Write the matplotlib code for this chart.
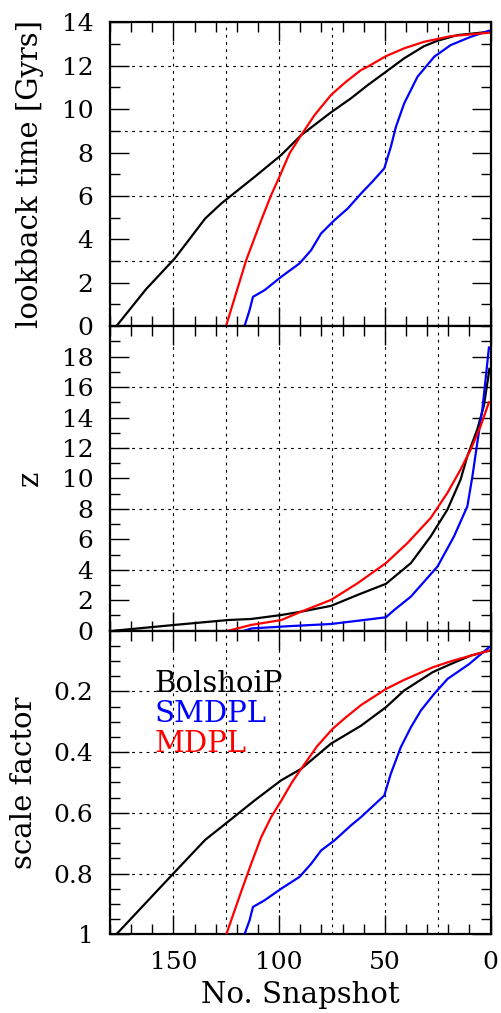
import matplotlib.pyplot as plt
from matplotlib.ticker import MultipleLocator, FixedLocator, FixedFormatter

plt.rcParams['font.family'] = 'DejaVu Serif'
plt.rcParams['font.size'] = 18

# ---- data (snapshot number -> value) ----
# lookback time [Gyrs]
lb_bol_x = [177, 163, 149.4, 135, 127.4, 111.6, 99.1, 89.6, 75.5, 66, 58.2, 49.5, 40.9, 31.5, 25.1, 15.7, 0.8]
lb_bol_y = [0, 1.7, 3.12, 4.96, 5.65, 6.88, 7.88, 8.8, 9.85, 10.5, 11.1, 11.72, 12.34, 12.9, 13.15, 13.41, 13.56]
lb_smd_x = [116.4, 114, 112.4, 106.9, 99.1, 90.4, 84.9, 80.2, 73.9, 67.6, 61.3, 56, 50.3, 47.2, 44.8,
            40.9, 34.6, 26.7, 18.9, 9.4, 0.8]
lb_smd_y = [0, 0.74, 1.35, 1.66, 2.27, 2.89, 3.5, 4.27, 4.88, 5.42, 6.11, 6.65, 7.27, 8.26, 9.18,
            10.26, 11.49, 12.41, 12.95, 13.33, 13.61]
lb_mdp_x = [125, 115.6, 108.5, 103.8, 99.9, 95.1, 89.6, 83.3, 75.5, 68.4, 61.3, 58.2, 49.5, 40.9,
            31.5, 18.9, 0.8]
lb_mdp_y = [0.05, 3.04, 4.88, 6.04, 6.88, 7.96, 8.8, 9.72, 10.65, 11.26, 11.8, 11.95, 12.44, 12.8,
            13.1, 13.36, 13.52]

# redshift z
z_bol_x = [178, 149.4, 124.2, 113.2, 99, 89.6, 75.5, 62.9, 49.5, 37.7, 28.3, 20.4, 14.2, 11, 6.3,
           3.2, 1.3, 0.6]
z_bol_y = [0, 0.38, 0.7, 0.77, 1.03, 1.25, 1.63, 2.35, 3.08, 4.44, 6.2, 7.96, 9.93, 11.47, 13.23,
           14.77, 16.5, 17.2]
z_smd_x = [116.4, 113, 95, 75.5, 60, 49.5, 45.6, 37.7, 25.1, 17.3, 11, 8.6, 6.3, 3.9, 2.4, 0.8]
z_smd_y = [0, 0.15, 0.3, 0.44, 0.7, 0.88, 1.36, 2.24, 4.22, 6.2, 8.17, 10.15, 12.35, 14.55, 16.5, 18.6]
z_mdp_x = [124, 113.2, 99, 89.6, 75.5, 62.9, 49.5, 39.3, 28.3, 20.4, 14.2, 9.4, 4.7, 0.8]
z_mdp_y = [0, 0.38, 0.7, 1.25, 2.02, 3.12, 4.44, 5.76, 7.41, 9.06, 10.59, 11.91, 13.45, 15.0]

# scale factor
a_bol_x = [177, 149.4, 135, 127.4, 111.6, 99.1, 89.6, 75.5, 61.3, 49.5, 40.9, 27.5, 18.9, 9.4, 0.8]
a_bol_y = [1.0, 0.795, 0.689, 0.647, 0.559, 0.493, 0.455, 0.372, 0.313, 0.252, 0.197, 0.137, 0.11,
           0.082, 0.066]
a_smd_x = [116.4, 114, 112.4, 106.9, 99.1, 90.4, 84.9, 80.2, 73.9, 66, 61.3, 50.3, 47.2, 42.5, 37.7,
           33, 26.7, 20.4, 10.2, 0.8]
a_smd_y = [1.0, 0.954, 0.91, 0.888, 0.85, 0.811, 0.768, 0.724, 0.691, 0.641, 0.614, 0.543, 0.471,
           0.384, 0.318, 0.263, 0.208, 0.159, 0.11, 0.055]
a_mdp_x = [125, 118, 113.2, 108.5, 103.8, 99, 94, 89.6, 82, 74.7, 68.4, 61.3, 49.5, 40.9, 27.5,
           18.9, 9.4, 0.8]
a_mdp_y = [1.0, 0.86, 0.767, 0.68, 0.614, 0.56, 0.5, 0.455, 0.38, 0.323, 0.285, 0.245, 0.192, 0.162,
           0.121, 0.101, 0.082, 0.066]

sim_names = ['BolshoiP', 'SMDPL', 'MDPL']
sim_colors = ['black', 'blue', 'red']

fig = plt.figure(figsize=(5.01, 10.13), dpi=100)
left, width = 0.2196, 0.7597
ax1 = fig.add_axes([left, 0.678, width, 0.300])
ax2 = fig.add_axes([left, 0.3774, width, 0.3006])
ax3 = fig.add_axes([left, 0.0777, width, 0.2997])

grid_x = [150, 125, 100, 75, 50, 25]
dots = (0, (2.5, 4))


def style(ax, hgrid):
    ax.set_xlim(180, 0)
    ax.xaxis.set_major_locator(MultipleLocator(50))
    ax.xaxis.set_minor_locator(MultipleLocator(10))
    ax.tick_params(which='both', direction='in', top=True, right=True, width=1)
    ax.tick_params(which='major', length=13.5, pad=12)
    ax.tick_params(which='minor', length=7)
    for s in ax.spines.values():
        s.set_linewidth(1.6)
    for g in grid_x:
        ax.axvline(g, color='black', lw=0.8, ls=dots, zorder=1)
    for g in hgrid:
        ax.axhline(g, color='black', lw=0.8, ls=dots, zorder=1)


# top: lookback time
for xs, ys, c in [(lb_bol_x, lb_bol_y, 'black'), (lb_smd_x, lb_smd_y, 'blue'), (lb_mdp_x, lb_mdp_y, 'red')]:
    ax1.plot(xs, ys, color=c, lw=1.6, zorder=3)
style(ax1, [3, 6, 9, 12])
ax1.set_ylim(0, 14)
ax1.yaxis.set_major_locator(MultipleLocator(2))
ax1.yaxis.set_minor_locator(MultipleLocator(1))
ax1.set_xticklabels([])
ax1.set_ylabel('lookback time [Gyrs]', fontsize=21, labelpad=13)

# middle: redshift
for xs, ys, c in [(z_bol_x, z_bol_y, 'black'), (z_smd_x, z_smd_y, 'blue'), (z_mdp_x, z_mdp_y, 'red')]:
    ax2.plot(xs, ys, color=c, lw=1.6, zorder=3)
style(ax2, [4, 8, 12, 16])
ax2.set_ylim(0, 20)
ax2.yaxis.set_major_locator(FixedLocator([0, 2, 4, 6, 8, 10, 12, 14, 16, 18]))
ax2.yaxis.set_minor_locator(MultipleLocator(1))
ax2.set_xticklabels([])
ax2.set_ylabel('z', fontsize=21, labelpad=13)

# bottom: scale factor
for xs, ys, c in [(a_bol_x, a_bol_y, 'black'), (a_smd_x, a_smd_y, 'blue'), (a_mdp_x, a_mdp_y, 'red')]:
    ax3.plot(xs, ys, color=c, lw=1.6, zorder=3)
style(ax3, [0.2, 0.4, 0.6, 0.8])
ax3.set_ylim(1, 0)
ax3.yaxis.set_major_locator(FixedLocator([0.2, 0.4, 0.6, 0.8, 1.0]))
ax3.yaxis.set_major_formatter(FixedFormatter(['0.2', '0.4', '0.6', '0.8', '1']))
ax3.yaxis.set_minor_locator(MultipleLocator(0.05))
ax3.set_xlabel('No. Snapshot', fontsize=21, labelpad=5)
ax3.set_ylabel('scale factor', fontsize=21, labelpad=11)

for i, (name, c) in enumerate(zip(sim_names, sim_colors)):
    ax3.text(159, 0.174 + 0.099 * i, name, color=c, va='center', ha='left', fontsize=21)

fig.savefig('out.png', dpi=100)
